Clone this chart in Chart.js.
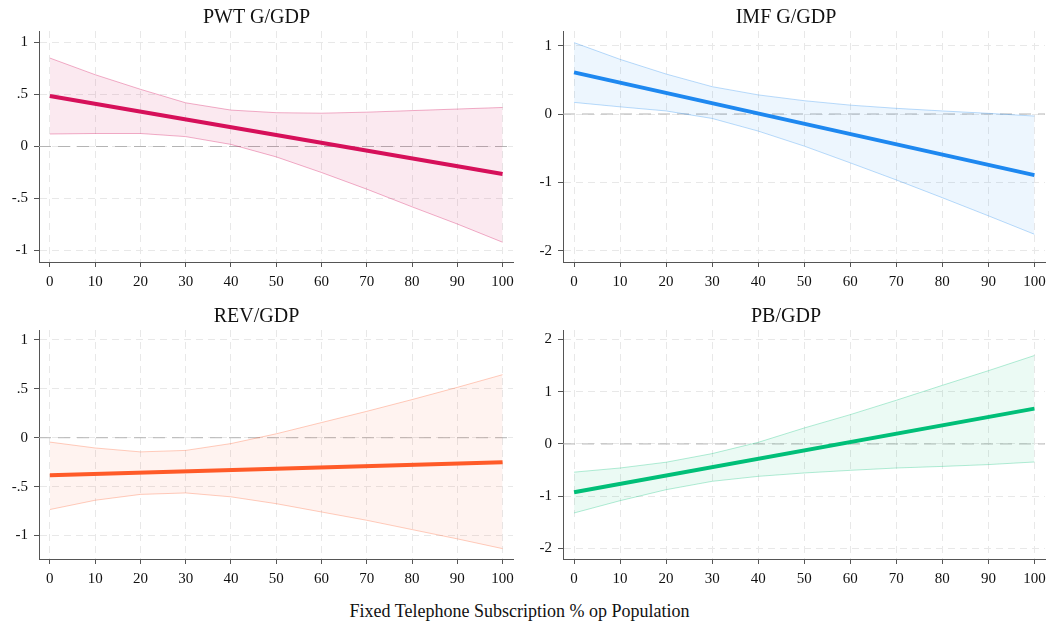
<!DOCTYPE html>
<html>
<head>
<meta charset="utf-8">
<script src="https://cdn.jsdelivr.net/npm/chart.js@4.4.1/dist/chart.umd.min.js"></script>
<style>
  html, body { margin: 0; padding: 0; background: #fff; }
  #wrap { position: relative; width: 1053px; height: 622px; background: #fff; overflow: hidden; }
  .panel { position: absolute; }
  #xtitle {
    position: absolute; left: 0; width: 1039px; top: 602px;
    text-align: center; font: 18px/18px "Liberation Serif", serif; color: #111;
  }
</style>
</head>
<body>
<div id="wrap">
  <canvas id="pwt" class="panel" width="527" height="300" style="left:0;top:0"></canvas>
  <canvas id="imf" class="panel" width="526" height="300" style="left:527px;top:0"></canvas>
  <canvas id="rev" class="panel" width="527" height="300" style="left:0;top:300px"></canvas>
  <canvas id="pb" class="panel" width="526" height="300" style="left:527px;top:300px"></canvas>
  <div id="xtitle">Fixed Telephone Subscription % op Population</div>
</div>
<script>
// x axis (shared by all panels)
const xTicks = [0, 10, 20, 30, 40, 50, 60, 70, 80, 90, 100];
const bandX = [0, 10, 20, 30, 40, 50, 60, 70, 80, 90, 100];
const lineX = [0, 100];

// PWT G/GDP
const pwtLine = [0.485, -0.265];
const pwtUpper = [0.85, 0.69, 0.55, 0.42, 0.35, 0.325, 0.32, 0.33, 0.345, 0.36, 0.375];
const pwtLower = [0.12, 0.125, 0.125, 0.095, 0.02, -0.10, -0.25, -0.41, -0.58, -0.745, -0.92];
const pwtTicks = [-1, -0.5, 0, 0.5, 1];
const pwtTickLabels = ['-1', '-.5', '0', '.5', '1'];

// IMF G/GDP
const imfLine = [0.61, -0.895];
const imfUpper = [1.045, 0.80, 0.585, 0.40, 0.28, 0.195, 0.13, 0.083, 0.045, 0.01, -0.03];
const imfLower = [0.17, 0.105, 0.045, -0.065, -0.25, -0.47, -0.715, -0.965, -1.225, -1.49, -1.76];
const imfTicks = [-2, -1, 0, 1];
const imfTickLabels = ['-2', '-1', '0', '1'];

// REV/GDP
const revLine = [-0.385, -0.25];
const revUpper = [-0.045, -0.105, -0.145, -0.13, -0.06, 0.04, 0.155, 0.27, 0.39, 0.515, 0.645];
const revLower = [-0.735, -0.64, -0.58, -0.565, -0.605, -0.675, -0.76, -0.845, -0.94, -1.035, -1.135];
const revTicks = [-1, -0.5, 0, 0.5, 1];
const revTickLabels = ['-1', '-.5', '0', '.5', '1'];

// PB/GDP
const pbLine = [-0.925, 0.675];
const pbUpper = [-0.54, -0.46, -0.35, -0.185, 0.03, 0.305, 0.56, 0.835, 1.12, 1.40, 1.69];
const pbLower = [-1.32, -1.085, -0.875, -0.715, -0.62, -0.555, -0.505, -0.46, -0.43, -0.395, -0.345];
const pbTicks = [-2, -1, 0, 1, 2];
const pbTickLabels = ['-2', '-1', '0', '1', '2'];

const SERIF = '"Liberation Serif", "Times New Roman", serif';
const AXIS = '#555';
const GRID = '#e8e8e8';

const pairs = (xs, ys) => xs.map((x, i) => ({ x: x, y: ys[i] }));

// dashed reference line at y = 0
const zeroLine = {
  id: 'zeroLine',
  beforeDatasetsDraw(chart) {
    const { ctx, chartArea, scales } = chart;
    const y = scales.y.getPixelForValue(0);
    ctx.save();
    ctx.strokeStyle = '#b4b4b4';
    ctx.lineWidth = 1;
    ctx.setLineDash([12, 7]);
    ctx.beginPath();
    ctx.moveTo(chartArea.left, y);
    ctx.lineTo(chartArea.right, y);
    ctx.stroke();
    ctx.restore();
  }
};

function makePanel(id, p) {
  return new Chart(document.getElementById(id), {
    type: 'line',
    data: {
      datasets: [
        { data: pairs(lineX, p.line), borderColor: p.color, borderWidth: 4, fill: false, order: 0 },
        { data: pairs(bandX, p.upper), borderColor: p.edge, borderWidth: 1, backgroundColor: p.fill, fill: '+1', order: 1 },
        { data: pairs(bandX, p.lower), borderColor: p.edge, borderWidth: 1, fill: false, order: 1 }
      ]
    },
    options: {
      responsive: false,
      animation: false,
      layout: { padding: { left: 0, right: p.padRight, top: 0, bottom: 0 } },
      elements: { point: { radius: 0 }, line: { tension: 0 } },
      plugins: {
        legend: { display: false },
        tooltip: { enabled: false },
        title: {
          display: true,
          text: p.title,
          color: '#111',
          font: { family: SERIF, size: 20, weight: 'normal' },
          padding: p.titlePad
        }
      },
      scales: {
        x: {
          type: 'linear',
          min: -2.4,
          max: 102.3,
          afterBuildTicks: a => { a.ticks = xTicks.map(v => ({ value: v })); },
          afterFit: a => { a.height = p.xHeight; },
          grid: { color: GRID, lineWidth: 1, tickColor: AXIS, tickLength: 5, tickWidth: 1 },
          border: { display: true, color: AXIS, width: 1, dash: [7, 5] },
          ticks: { color: '#111', font: { family: SERIF, size: 15 }, padding: 6, maxRotation: 0, autoSkip: false }
        },
        y: {
          type: 'linear',
          min: p.yMin,
          max: p.yMax,
          afterBuildTicks: a => { a.ticks = p.ticks.map(v => ({ value: v })); },
          afterFit: a => { a.width = p.yWidth; },
          grid: { color: GRID, lineWidth: 1, tickColor: AXIS, tickLength: 5, tickWidth: 1 },
          border: { display: true, color: AXIS, width: 1, dash: [7, 5] },
          ticks: {
            color: '#111',
            font: { family: SERIF, size: 15 },
            padding: 6,
            autoSkip: false,
            callback: v => p.tickLabels[p.ticks.indexOf(v)]
          }
        }
      }
    },
    plugins: [zeroLine]
  });
}

makePanel('pwt', {
  title: 'PWT G/GDP', line: pwtLine, upper: pwtUpper, lower: pwtLower,
  ticks: pwtTicks, tickLabels: pwtTickLabels, yMin: -1.11, yMax: 1.11,
  color: '#d6105a', edge: 'rgba(214,16,90,0.33)', fill: 'rgba(214,16,90,0.09)',
  padRight: 14, yWidth: 39, xHeight: 38, titlePad: { top: 6, bottom: 1 }
});
makePanel('imf', {
  title: 'IMF G/GDP', line: imfLine, upper: imfUpper, lower: imfLower,
  ticks: imfTicks, tickLabels: imfTickLabels, yMin: -2.166, yMax: 1.215,
  color: '#1e88f0', edge: 'rgba(30,136,240,0.3)', fill: 'rgba(30,136,240,0.08)',
  padRight: 8, yWidth: 36, xHeight: 38, titlePad: { top: 6, bottom: 1 }
});
makePanel('rev', {
  title: 'REV/GDP', line: revLine, upper: revUpper, lower: revLower,
  ticks: revTicks, tickLabels: revTickLabels, yMin: -1.241, yMax: 1.102,
  color: '#ff5a28', edge: 'rgba(255,90,40,0.3)', fill: 'rgba(255,90,40,0.07)',
  padRight: 14, yWidth: 39, xHeight: 41, titlePad: { top: 5, bottom: 1 }
});
makePanel('pb', {
  title: 'PB/GDP', line: pbLine, upper: pbUpper, lower: pbLower,
  ticks: pbTicks, tickLabels: pbTickLabels, yMin: -2.2, yMax: 2.178,
  color: '#00bf78', edge: 'rgba(0,191,120,0.3)', fill: 'rgba(0,191,120,0.08)',
  padRight: 8, yWidth: 36, xHeight: 41, titlePad: { top: 5, bottom: 1 }
});
</script>
</body>
</html>
